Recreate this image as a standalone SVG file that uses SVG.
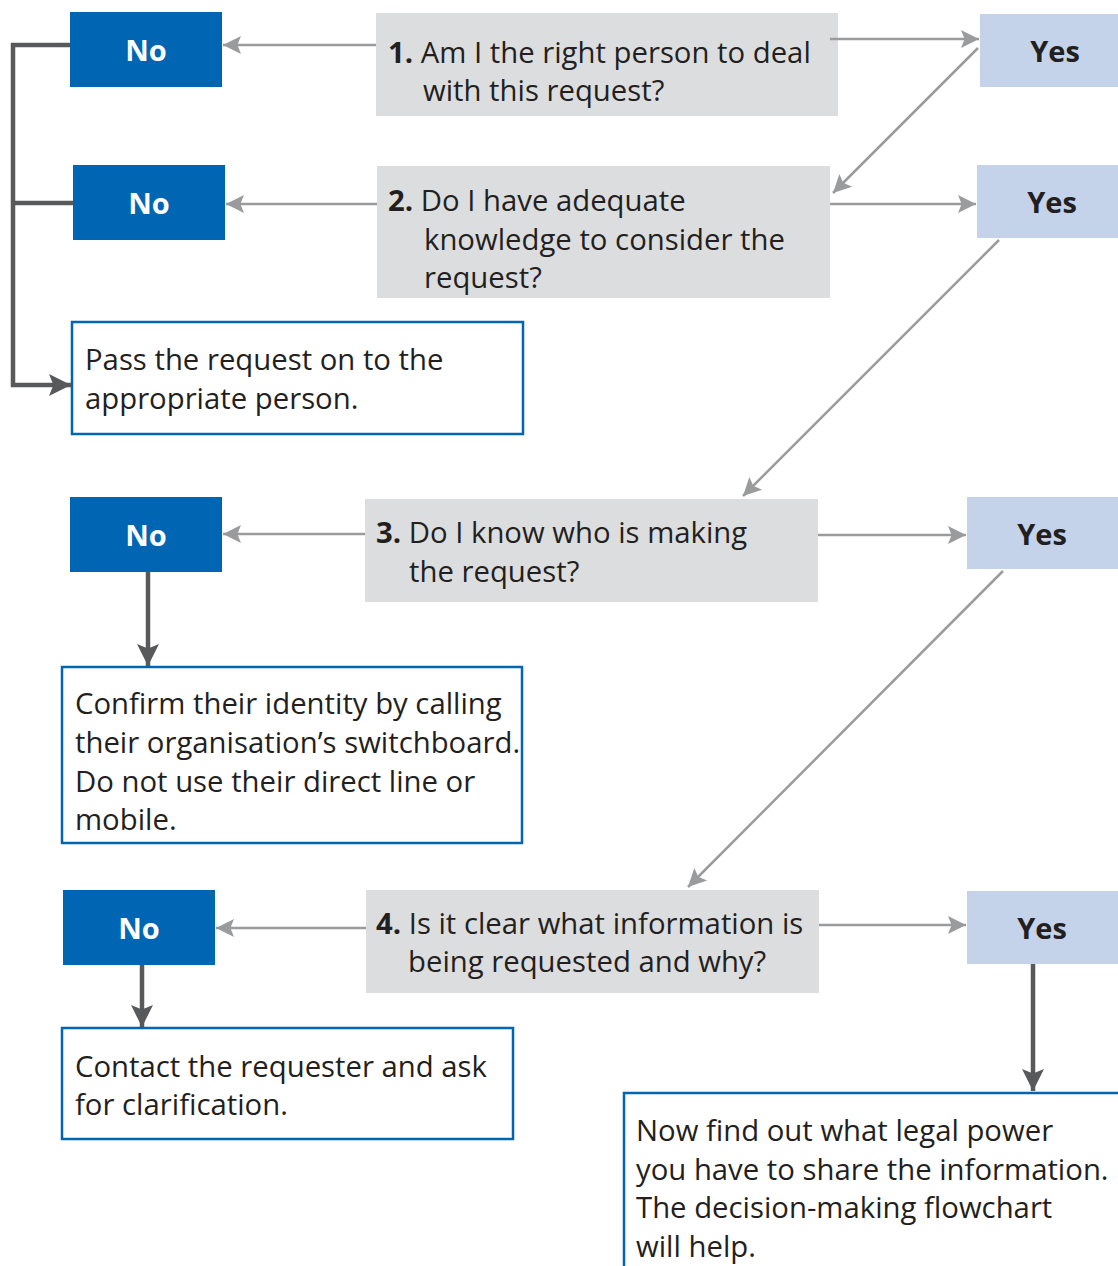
<svg xmlns="http://www.w3.org/2000/svg" width="1118" height="1266" viewBox="0 0 1118 1266">
<defs>
<style>
.no{fill:#0066b3}
.yes{fill:#c5d3ea}
.q{fill:#dcdddf}
.act{fill:#fff;stroke:#0066b3;stroke-width:2.5}
.t{font-family:"Open Sans","Noto Sans",sans-serif;font-size:29.3px;fill:#231f20}
.b{font-weight:bold}
.nl{font-family:"Open Sans","Noto Sans",sans-serif;font-size:29px;font-weight:bold;fill:#fff;text-anchor:middle}
.yl{font-family:"Open Sans","Noto Sans",sans-serif;font-size:29px;font-weight:bold;fill:#231f20;text-anchor:middle}
.lg{stroke:#9a9b9d;stroke-width:2.5;fill:none}
.dk{stroke:#58595b;stroke-width:4.5;fill:none}
</style>
<marker id="ad" viewBox="0 0 10 10" refX="10" refY="5" markerWidth="26" markerHeight="22" markerUnits="userSpaceOnUse" orient="auto">
<path d="M0,0 L10,5 L0,10 L2,5 Z" fill="#58595b"/>
</marker>
<marker id="g" viewBox="0 0 10 10" refX="10" refY="5" markerWidth="22" markerHeight="18" markerUnits="userSpaceOnUse" orient="auto">
<path d="M0,0 L10,5 L0,10 L2,5 Z" fill="#9a9b9d"/>
</marker>
</defs>

<g id="no1"><rect class="no" x="70" y="12" width="152" height="75"/><text class="nl" x="146" y="61">No</text></g>
<g id="q1"><rect class="q" x="376" y="13" width="462" height="103"/>
<text class="t" x="388" y="63"><tspan class="b">1.</tspan> Am I the right person to deal</text>
<text class="t" x="423" y="101">with this request?</text></g>
<g id="yes1"><rect class="yes" x="980" y="14" width="138" height="73"/><text class="yl" x="1055" y="62">Yes</text></g>

<g id="no2"><rect class="no" x="73" y="165" width="152" height="75"/><text class="nl" x="149" y="214">No</text></g>
<g id="q2"><rect class="q" x="377" y="166" width="453" height="132"/>
<text class="t" x="388" y="211"><tspan class="b">2.</tspan> Do I have adequate</text>
<text class="t" x="424" y="250">knowledge to consider the</text>
<text class="t" x="424" y="288">request?</text></g>
<g id="yes2"><rect class="yes" x="977" y="165" width="141" height="73"/><text class="yl" x="1052" y="213">Yes</text></g>

<g id="pass"><rect class="act" x="72" y="322" width="451" height="112"/>
<text class="t" x="85" y="370">Pass the request on to the</text>
<text class="t" x="85" y="409">appropriate person.</text></g>

<g id="no3"><rect class="no" x="70" y="497" width="152" height="75"/><text class="nl" x="146" y="546">No</text></g>
<g id="q3"><rect class="q" x="365" y="499" width="453" height="103"/>
<text class="t" x="376" y="543"><tspan class="b">3.</tspan> Do I know who is making</text>
<text class="t" x="409" y="582">the request?</text></g>
<g id="yes3"><rect class="yes" x="967" y="497" width="151" height="72"/><text class="yl" x="1042" y="545">Yes</text></g>

<g id="confirm"><rect class="act" x="62" y="667" width="460" height="176"/>
<text class="t" x="75" y="714">Confirm their identity by calling</text>
<text class="t" x="75" y="753">their organisation’s switchboard.</text>
<text class="t" x="75" y="792">Do not use their direct line or</text>
<text class="t" x="75" y="830">mobile.</text></g>

<g id="no4"><rect class="no" x="63" y="890" width="152" height="75"/><text class="nl" x="139" y="939">No</text></g>
<g id="q4"><rect class="q" x="366" y="890" width="453" height="103"/>
<text class="t" x="376" y="934"><tspan class="b">4.</tspan> Is it clear what information is</text>
<text class="t" x="408" y="972">being requested and why?</text></g>
<g id="yes4"><rect class="yes" x="967" y="891" width="151" height="73"/><text class="yl" x="1042" y="939">Yes</text></g>

<g id="contact"><rect class="act" x="62" y="1028" width="451" height="111"/>
<text class="t" x="75" y="1077">Contact the requester and ask</text>
<text class="t" x="75" y="1115">for clarification.</text></g>

<g id="final"><rect class="act" x="624" y="1093" width="510" height="190"/>
<text class="t" x="636" y="1141">Now find out what legal power</text>
<text class="t" x="636" y="1180">you have to share the information.</text>
<text class="t" x="636" y="1218">The decision-making flowchart</text>
<text class="t" x="636" y="1257">will help.</text></g>

<g id="connectors">
<line class="lg" x1="376" y1="45" x2="223" y2="45" marker-end="url(#g)"/>
<line class="lg" x1="830" y1="39" x2="979" y2="39" marker-end="url(#g)"/>
<line class="lg" x1="978" y1="48" x2="833" y2="193" marker-end="url(#g)"/>
<line class="lg" x1="377" y1="204" x2="226" y2="204" marker-end="url(#g)"/>
<line class="lg" x1="830" y1="204" x2="976" y2="204" marker-end="url(#g)"/>
<line class="lg" x1="999" y1="240" x2="743" y2="496" marker-end="url(#g)"/>
<line class="lg" x1="365" y1="534" x2="223" y2="534" marker-end="url(#g)"/>
<line class="lg" x1="818" y1="535" x2="966" y2="535" marker-end="url(#g)"/>
<line class="lg" x1="1003" y1="571" x2="688" y2="887" marker-end="url(#g)"/>
<line class="lg" x1="366" y1="928" x2="216" y2="928" marker-end="url(#g)"/>
<line class="lg" x1="819" y1="925" x2="966" y2="925" marker-end="url(#g)"/>
<polyline class="dk" points="70,45 13,45 13,385 71,385" marker-end="url(#ad)"/>
<line class="dk" x1="73" y1="203" x2="13" y2="203"/>
<line class="dk" x1="148" y1="572" x2="148" y2="666" marker-end="url(#ad)"/>
<line class="dk" x1="142" y1="965" x2="142" y2="1027" marker-end="url(#ad)"/>
<line class="dk" x1="1033" y1="964" x2="1033" y2="1091" marker-end="url(#ad)"/>
</g>
</svg>
